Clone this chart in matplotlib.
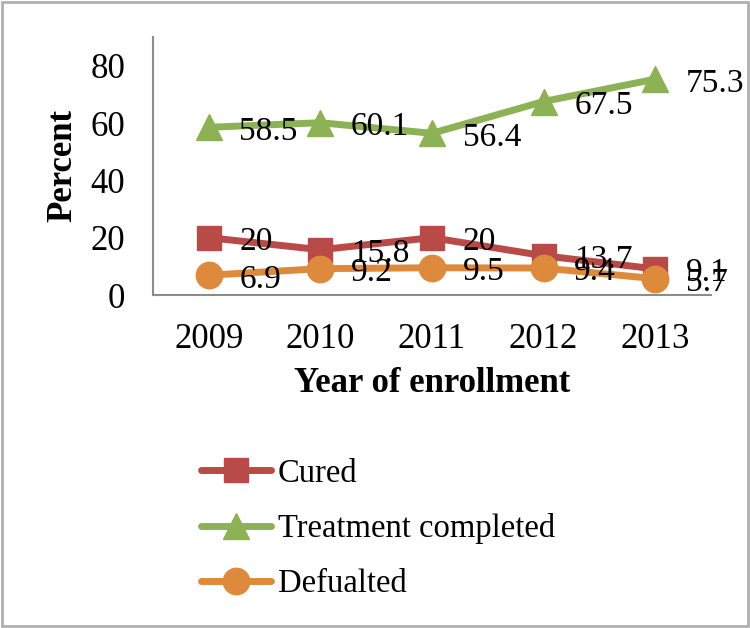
import matplotlib.pyplot as plt
from matplotlib.patches import Rectangle

years = ['2009', '2010', '2011', '2012', '2013']
cured = [20, 15.8, 20, 13.7, 9.1]
completed = [58.5, 60.1, 56.4, 67.5, 75.3]
defaulted = [6.9, 9.2, 9.5, 9.4, 5.7]

series = [
    ('Cured', cured, '#B84A48', 's', 17),
    ('Treatment completed', completed, '#8DB255', '^', 19),
    ('Defualted', defaulted, '#DE8A3C', 'o', 19),
]

plt.rcParams['font.family'] = ['Liberation Serif', 'DejaVu Serif']

fig = plt.figure(figsize=(7.5, 6.28), dpi=100)
ax = fig.add_axes([153 / 750, 1 - 295 / 628, (711 - 153) / 750, (295 - 37) / 628])

x = list(range(len(years)))
handles = []
for name, vals, color, marker, ms in series:
    line, = ax.plot(x, vals, color=color, lw=5, marker=marker, ms=ms,
                    solid_capstyle='round', label=name, clip_on=False)
    handles.append(line)
    for xi, v in zip(x, vals):
        ax.annotate(f'{v:g}', (xi, v), xytext=(22, -3), textcoords='offset points',
                    ha='left', va='center', fontsize=24, color='black')

ax.set_xlim(-0.5, len(years) - 0.5)
ax.set_ylim(0, 90)
ax.set_yticks([0, 20, 40, 60, 80])
ax.set_xticks(x)
ax.set_xticklabels(years)
ax.tick_params(length=0, labelsize=25, pad=20)
ax.tick_params(axis='y', pad=20)
for s in ['top', 'right']:
    ax.spines[s].set_visible(False)
for s in ['left', 'bottom']:
    ax.spines[s].set_color('#8C8C8C')
    ax.spines[s].set_linewidth(1.5)

ax.set_ylabel('Percent', fontsize=25, fontweight='bold', labelpad=8)
ax.set_xlabel('Year of enrollment', fontsize=25, fontweight='bold', labelpad=8)

fig.legend(handles=handles, loc='upper left', bbox_to_anchor=(188 / 750, 1 - 445 / 628),
           frameon=False, fontsize=23.5, handlelength=2.15, handletextpad=0.2,
           labelspacing=0.75, borderaxespad=0)

fig.patches.append(Rectangle((0.003, 0.003), 0.994, 0.994, transform=fig.transFigure,
                             fill=False, edgecolor='#B0B0B0', lw=2))

fig.savefig('out.png', dpi=100)
